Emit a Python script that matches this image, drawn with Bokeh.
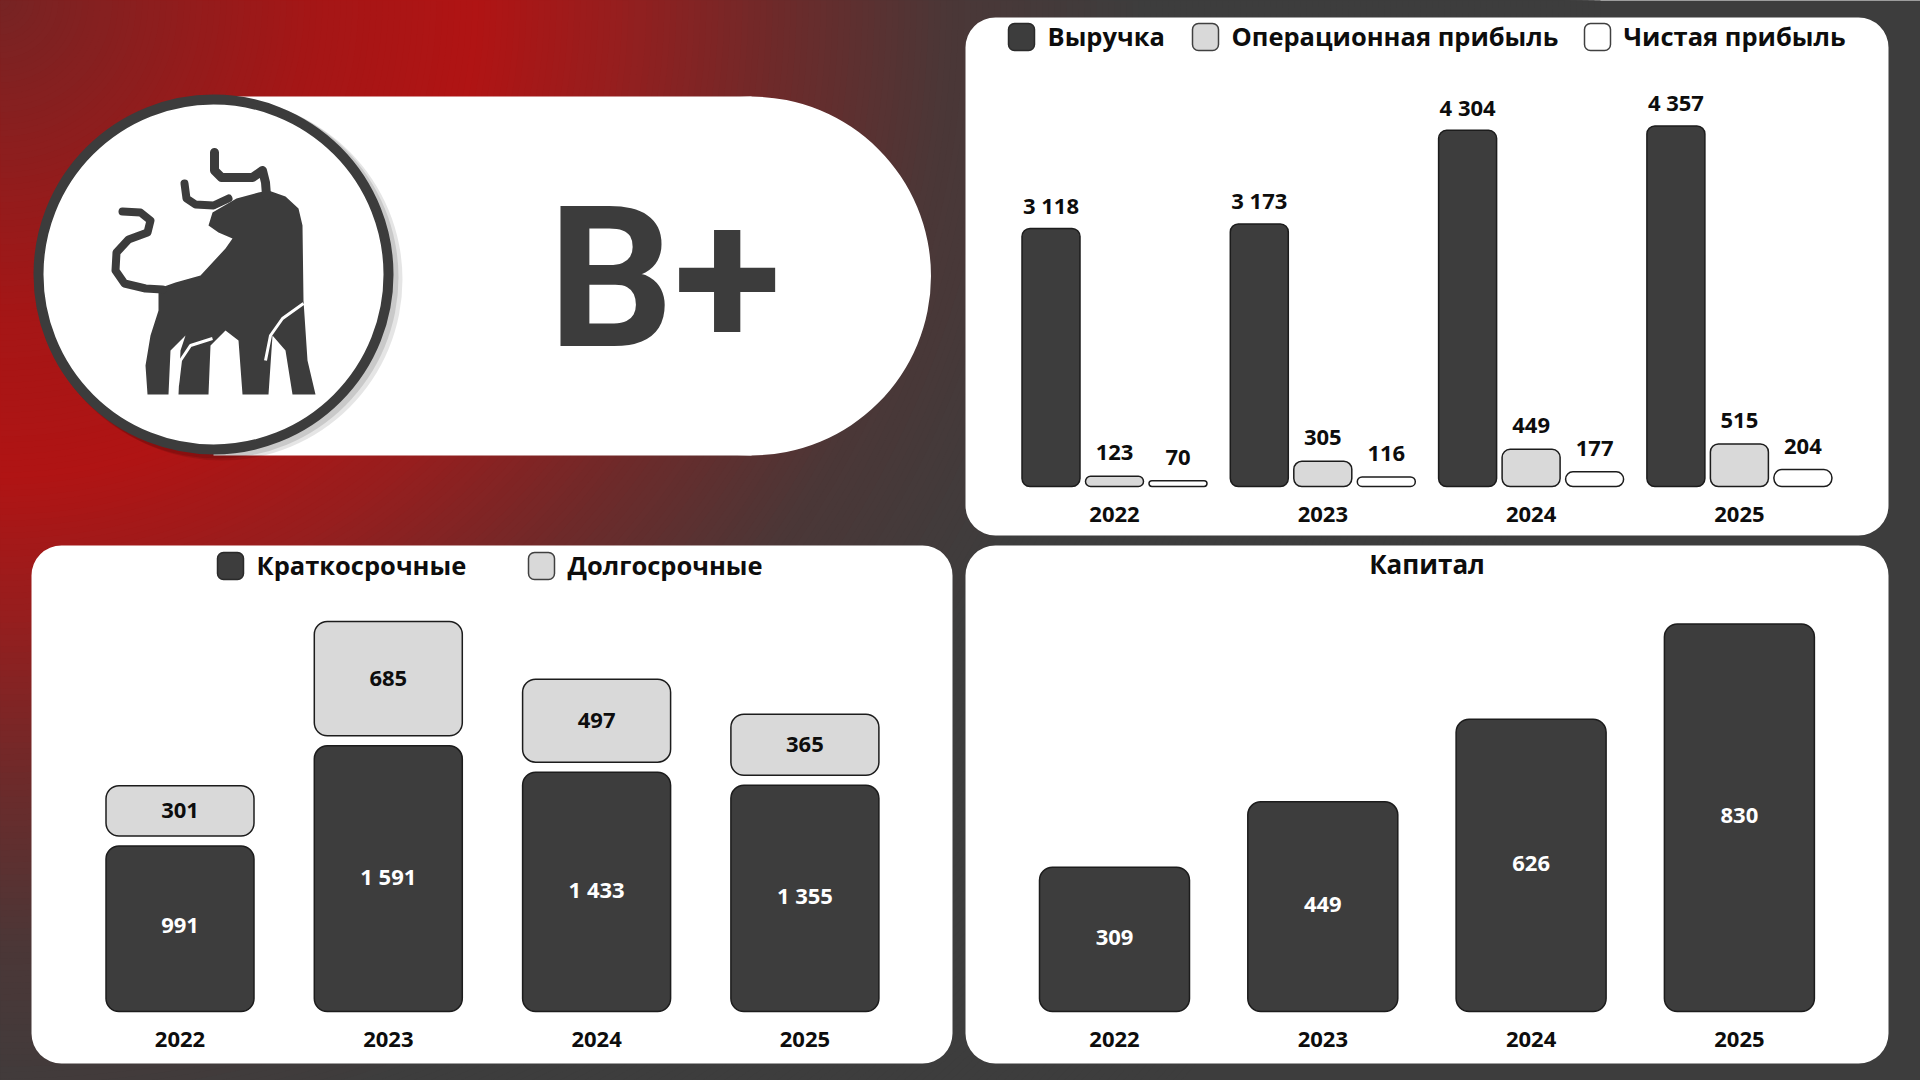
import numpy as np
from bokeh.plotting import figure
from bokeh.models import ColumnDataSource, Range1d
from bokeh.transform import dodge
from bokeh.core.properties import value
from bokeh.embed import file_html
from bokeh.resources import INLINE

# ---------------- data ----------------
years = ["2022", "2023", "2024", "2025"]
revenue = [3118, 3173, 4304, 4357]
op_profit = [123, 305, 449, 515]
net_profit = [70, 116, 177, 204]
short_term = [991, 1591, 1433, 1355]
long_term = [301, 685, 497, 365]
equity = [309, 449, 626, 830]
rating = "B+"
legend_top = ["Выручка", "Операционная прибыль", "Чистая прибыль"]
legend_debt = ["Краткосрочные", "Долгосрочные"]
title_equity = "Капитал"


def fmt(v):
    return f"{v:,}".replace(",", " ")


# ---------------- page geometry ----------------
W, H = 1920, 1080
OFF = 0
PAGE_H = 1080


def Y(py):
    return PAGE_H - py


DARK = "#3d3d3d"
LIGHT = "#d9d9d9"
EDGE = "#1c1c1c"
INK = "#0d0d0d"
FONT = value("Open Sans")

p = figure(width=W, height=H,
           x_range=Range1d(OFF, OFF + W), y_range=Range1d(PAGE_H - OFF - H, PAGE_H - OFF),
           output_backend="svg", toolbar_location=None, min_border=0,
           x_axis_location=None, y_axis_location=None)
p.grid.visible = False
p.outline_line_color = None
p.background_fill_color = "#3d3d3d"
p.border_fill_color = "#3d3d3d"

# ---------------- background gradient ----------------
stops_d = [0, 150, 320, 480, 620, 780, 950, 1150, 1600]
stops_c = [(118, 36, 36), (140, 30, 30), (165, 22, 22), (176, 20, 20), (150, 30, 30),
           (110, 42, 42), (75, 55, 55), (61, 61, 61), (61, 61, 61)]
radii = np.arange(1600, 0, -6)
cols = []
for r in radii:
    rgb = [int(round(np.interp(r, stops_d, [c[i] for c in stops_c]))) for i in range(3)]
    cols.append("#%02x%02x%02x" % tuple(rgb))
p.circle(x=[0] * len(radii), y=[PAGE_H] * len(radii), radius=list(radii),
         fill_color=cols, line_color=None)

# ---------------- pill + logo ----------------
p.quad(left=213, right=751, top=Y(96), bottom=Y(455), fill_color="white", line_color=None)
p.circle(x=751, y=Y(275.5), radius=179.5, fill_color="white", line_color=None)
p.circle(x=221, y=Y(279), radius=181, fill_color="black", fill_alpha=0.10, line_color=None)
p.circle(x=217, y=Y(277), radius=181, fill_color="black", fill_alpha=0.12, line_color=None)
p.circle(x=213, y=Y(274), radius=175, fill_color="white", line_color="#3c3c3c", line_width=10)

body = [(208, 225), (212, 212), (236, 198), (258, 192), (268, 190), (285, 196), (298, 208),
        (302, 225), (303, 300), (307, 360), (315, 394), (292, 394), (285, 350), (272, 335),
        (268, 394), (242, 394), (238, 340), (225, 330), (210, 345), (208, 394), (178, 394),
        (180, 350), (185, 335), (170, 350), (168, 394), (147, 394), (145, 365), (150, 335),
        (158, 310), (158, 288), (175, 282), (200, 275), (225, 248), (232, 238), (218, 232)]
p.patch(x=[a for a, b in body], y=[Y(b) for a, b in body], fill_color="#3c3c3c", line_color=None)
horn1 = [(214, 152), (214, 170), (221, 177), (252, 177), (262, 170), (265, 182), (266, 195)]
horn2 = [(184, 183), (186, 198), (195, 204), (213, 205), (228, 198)]
tail = [(122, 211), (140, 212), (150, 220), (147, 232), (128, 239), (116, 252), (115, 270),
        (124, 283), (145, 288), (162, 289)]
for ln, w in ((horn1, 9), (horn2, 8), (tail, 8)):
    p.line(x=[a for a, b in ln], y=[Y(b) for a, b in ln], line_color="#3c3c3c",
           line_width=w, line_join="round", line_cap="round")
for ln in ([(303, 303), (282, 318), (270, 335), (265, 360)],
           [(212, 338), (190, 345), (180, 360), (177, 385)]):
    p.line(x=[a for a, b in ln], y=[Y(b) for a, b in ln], line_color="white", line_width=3)

p.text(x=[664], y=[Y(278)], text=[rating], text_font=value("Roboto"), text_font_style="bold",
       text_font_size="197px", text_color="#3c3c3c", text_align="center",
       text_baseline="middle")

# ---------------- panels ----------------
for l, r, t, b in [(965, 1888, 17, 535), (31, 952, 545, 1063), (965, 1888, 545, 1063)]:
    p.quad(left=l, right=r, top=Y(t), bottom=Y(b), fill_color="white", line_color=None,
           border_radius=30)


def legend_item(sq_left, sq_top, label, fill, edge):
    p.quad(left=sq_left, right=sq_left + 26, top=Y(sq_top), bottom=Y(sq_top + 27),
           fill_color=fill, line_color=edge, line_width=1.5, border_radius=6)
    p.text(x=[sq_left + 39], y=[Y(sq_top + 12.5)], text=[label], text_font=FONT,
           text_font_style="bold", text_font_size="25.5px", text_color=INK,
           text_align="left", text_baseline="middle")


legend_item(1008, 23, legend_top[0], DARK, "#2a2a2a")
legend_item(1192, 23, legend_top[1], LIGHT, "#404040")
legend_item(1584, 23, legend_top[2], "white", "#404040")
legend_item(217, 552, legend_debt[0], DARK, "#2a2a2a")
legend_item(528, 552, legend_debt[1], LIGHT, "#404040")

p.text(x=[1426.5], y=[Y(563.5)], text=[title_equity], text_font=FONT, text_font_style="bold",
       text_font_size="26px", text_color=INK, text_align="center", text_baseline="middle")


# ---------------- chart scales ----------------
def yr(py0, k):
    start = -(PAGE_H - OFF - py0) / k
    return Range1d(start, start + H / k)


def xr(cx0, step):
    start = -(cx0 - OFF) / step
    return Range1d(start, start + W / step)


STEP = 208.3
p.extra_x_ranges = {"tr": xr(1114, STEP), "bl": xr(179.5, STEP), "br": xr(1114, STEP)}
p.extra_y_ranges = {"tr": yr(486, 0.08275), "bl": yr(1011, 0.167), "br": yr(1011, 0.467)}

idx = list(range(len(years)))
zero = [0] * len(years)
TXT = dict(text_font=FONT, text_font_style="bold", text_font_size="22px",
           text_align="center", text_baseline="middle")

# ---- top right: revenue / profits ----
src_tr = ColumnDataSource(dict(idx=idx, years=years, zero=zero,
                               revenue=revenue, op=op_profit, net=net_profit,
                               revenue_lbl=[fmt(v) for v in revenue],
                               op_lbl=[fmt(v) for v in op_profit],
                               net_lbl=[fmt(v) for v in net_profit]))
OFFS = 63.5 / STEP
BW = 58 / STEP
for col, off, fill in (("revenue", -OFFS, DARK), ("op", 0, LIGHT), ("net", OFFS, "white")):
    p.vbar(x=dodge("idx", off), width=BW, top=col, bottom=0, source=src_tr,
           x_range_name="tr", y_range_name="tr", fill_color=fill, line_color=EDGE,
           line_width=1.5, border_radius=8)
    p.text(x=dodge("idx", off), y=col, text=col + "_lbl", source=src_tr, y_offset=-23.5,
           x_range_name="tr", y_range_name="tr", text_color=INK, **TXT)
p.text(x="idx", y="zero", text="years", source=src_tr, y_offset=27.5, x_range_name="tr",
       y_range_name="tr", text_color=INK, **TXT)

# ---- bottom left: debt (stacked with gap) ----
GAP = 10 / 0.167
src_bl = ColumnDataSource(dict(idx=idx, years=years, zero=zero, short=short_term,
                               long_bottom=[s + GAP for s in short_term],
                               long_top=[s + GAP + l for s, l in zip(short_term, long_term)],
                               short_mid=[s / 2 for s in short_term],
                               long_mid=[s + GAP + l / 2 for s, l in zip(short_term, long_term)],
                               short_lbl=[fmt(v) for v in short_term],
                               long_lbl=[fmt(v) for v in long_term]))
BW2 = 148 / STEP
p.vbar(x="idx", width=BW2, top="short", bottom=0, source=src_bl, x_range_name="bl",
       y_range_name="bl", fill_color=DARK, line_color=EDGE, line_width=1.5, border_radius=13)
p.vbar(x="idx", width=BW2, top="long_top", bottom="long_bottom", source=src_bl,
       x_range_name="bl", y_range_name="bl", fill_color=LIGHT, line_color=EDGE,
       line_width=1.5, border_radius=13)
p.text(x="idx", y="short_mid", text="short_lbl", source=src_bl, y_offset=-3,
       x_range_name="bl", y_range_name="bl", text_color="white", **TXT)
p.text(x="idx", y="long_mid", text="long_lbl", source=src_bl, x_range_name="bl",
       y_range_name="bl", text_color=INK, **TXT)
p.text(x="idx", y="zero", text="years", source=src_bl, y_offset=27.5, x_range_name="bl",
       y_range_name="bl", text_color=INK, **TXT)

# ---- bottom right: equity ----
src_br = ColumnDataSource(dict(idx=idx, years=years, zero=zero, equity=equity,
                               mid=[v / 2 for v in equity],
                               lbl=[fmt(v) for v in equity]))
p.vbar(x="idx", width=150 / STEP, top="equity", bottom=0, source=src_br, x_range_name="br",
       y_range_name="br", fill_color=DARK, line_color=EDGE, line_width=1.5, border_radius=13)
p.text(x="idx", y="mid", text="lbl", source=src_br, y_offset=-2, x_range_name="br",
       y_range_name="br", text_color="white", **TXT)
p.text(x="idx", y="zero", text="years", source=src_br, y_offset=27.5, x_range_name="br",
       y_range_name="br", text_color=INK, **TXT)

open("out.html", "w").write(file_html(p, INLINE))
